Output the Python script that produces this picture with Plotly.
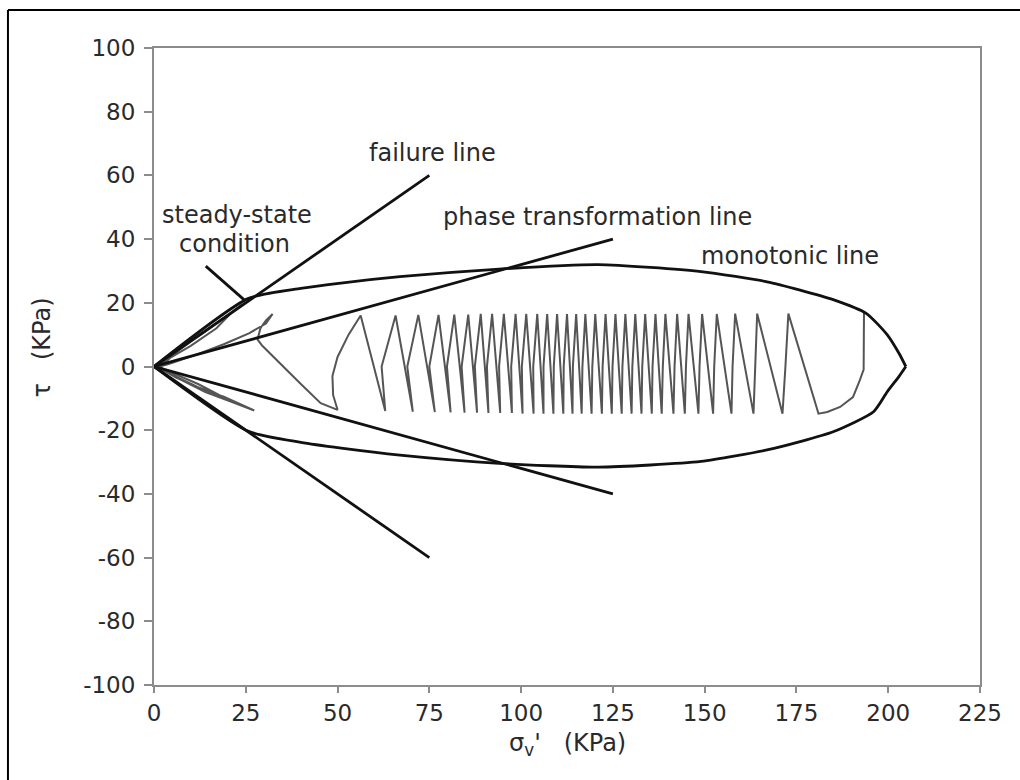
import plotly.graph_objects as go

# ---------------- data ----------------
# straight reference lines (sigma_v', tau)
failure_up_x = [0, 75]
failure_up_y = [0, 60]
failure_dn_x = [0, 75]
failure_dn_y = [0, -60]
pt_up_x = [0, 125]
pt_up_y = [0, 40]
pt_dn_x = [0, 125]
pt_dn_y = [0, -40]

# monotonic line (closed envelope)
mono_up_x = [0, 25.6, 40, 50.9, 67, 94, 121, 149, 167, 176, 185, 194, 199.7, 203, 204.8]
mono_up_y = [0, 21.3, 24.5, 26.2, 28.2, 30.6, 32.0, 29.8, 26.6, 24.0, 21.0, 16.7, 10.0, 4.0, 0]
mono_dn_x = [0, 25.6, 40, 51, 67, 94, 121, 149, 167, 176, 185, 196, 199.7, 203, 204.8]
mono_dn_y = [0, -20.3, -23.8, -25.6, -27.8, -30.4, -31.6, -29.8, -26.2, -23.6, -20.5, -14.2, -8.0, -3.0, 0]

# steady-state pointer (tail -> head)
pointer_x = [14.1, 24.5]
pointer_y = [31.5, 21.0]

# cyclic stress path: start segment
start_x = [193.4, 193.4, 193.3, 192.3, 190.4, 186.9, 183.4, 181.0]
start_y = [16.8, 8.0, -1.0, -4.2, -9.6, -12.7, -14.3, -14.8]

# cycles: peak, mid (tau ~ 0) and valley sigma_v'
cycle_peak = [172.8, 164.3, 158.3, 153.3, 149.3, 145.6, 142.5, 139.3, 136.6, 133.8,
              131.1, 128.4, 125.7, 123.0, 120.2, 117.5, 115.0, 112.5, 109.8, 107.1,
              104.4, 101.4, 98.5, 95.3, 92.1, 89.0, 85.6, 81.8, 77.5, 72.0, 65.8]
cycle_mid = [172.0, 163.7, 157.6, 152.6, 148.6, 144.9, 141.8, 138.6, 135.8, 133.0,
             130.3, 127.6, 124.9, 122.2, 119.4, 116.7, 114.1, 111.6, 108.9, 106.1,
             103.3, 100.2, 97.3, 94.0, 90.7, 87.4, 83.8, 79.8, 75.0, 69.0, 62.0]
cycle_valley = [171.2, 163.3, 157.3, 152.3, 148.3, 144.6, 141.5, 138.3, 135.6, 132.8,
                130.1, 127.4, 124.7, 122.0, 119.2, 116.5, 114.0, 111.5, 108.8, 106.1,
                103.4, 100.4, 97.5, 94.3, 91.1, 88.0, 84.6, 80.8, 76.5, 70.5, 63.0]
cycle_peak_tau = [16.6, 16.6, 16.6, 16.5, 16.5, 16.5, 16.5, 16.5, 16.5, 16.5,
                  16.5, 16.5, 16.5, 16.5, 16.5, 16.5, 16.5, 16.5, 16.5, 16.5,
                  16.5, 16.5, 16.5, 16.5, 16.5, 16.5, 16.3, 16.3, 16.2, 16.2, 16.0]
cycle_valley_tau = [-14.8, -14.8, -14.8, -14.8, -14.8, -14.8, -14.8, -14.8, -14.8, -14.8,
                    -14.8, -14.8, -14.8, -14.8, -14.8, -14.8, -14.8, -14.8, -14.8, -14.8,
                    -14.8, -14.8, -14.6, -14.6, -14.6, -14.5, -14.5, -14.4, -14.3, -14.2, -14.0]

# final part: approach to failure (butterfly)
end_x = [56.3, 53.0, 50.0, 48.6, 48.8, 50.0, 45.4, 40.0, 34.0, 29.5, 28.2, 29.0, 30.5, 32.3,
         30.5, 26.0, 19.0, 11.0, 4.0, 1.5,
         6.0, 12.0, 19.0, 25.0, 27.3,
         22.0, 14.0, 6.0, 1.5,
         6.0, 12.0, 17.0, 21.0,
         17.0, 10.0, 4.0, 1.0,
         7.0, 14.0, 22.0,
         12.0, 3.0, 0.5,
         7.0, 14.0, 20.0, 24.0]
end_y = [16.0, 10.0, 3.0, -3.0, -9.0, -13.6, -11.5, -5.5, 1.5, 6.5, 8.5, 12.0, 14.5, 16.5,
         13.5, 10.5, 7.0, 3.5, 0.8, 0.0,
         -3.2, -6.5, -9.5, -12.5, -13.8,
         -11.5, -7.5, -3.5, -0.5,
         4.5, 9.5, 13.5, 16.8,
         12.0, 6.5, 2.5, 0.0,
         -4.0, -8.0, -11.5,
         -5.5, -1.0, 0.0,
         5.5, 11.0, 16.0, 19.5]

# ---------------- build cyclic path ----------------
path_x = list(start_x)
path_y = list(start_y)
for p, m, v, pt, vt in zip(cycle_peak, cycle_mid, cycle_valley, cycle_peak_tau, cycle_valley_tau):
    path_x += [p, m, v]
    path_y += [pt, 0.0, vt]
path_x += end_x
path_y += end_y

fig = go.Figure()

fig.add_trace(go.Scatter(x=path_x, y=path_y, mode="lines",
                         line=dict(color="#555555", width=2.0), hoverinfo="skip"))

black = dict(color="#111111", width=2.8)
for xs, ys in [(failure_up_x, failure_up_y), (failure_dn_x, failure_dn_y),
               (pt_up_x, pt_up_y), (pt_dn_x, pt_dn_y), (pointer_x, pointer_y)]:
    fig.add_trace(go.Scatter(x=xs, y=ys, mode="lines", line=black, hoverinfo="skip"))
for xs, ys in [(mono_up_x, mono_up_y), (mono_dn_x, mono_dn_y)]:
    fig.add_trace(go.Scatter(x=xs, y=ys, mode="lines", hoverinfo="skip",
                             line=dict(color="#111111", width=2.8, shape="spline", smoothing=0.6)))

txt = dict(family="DejaVu Sans, Verdana, sans-serif", size=24, color="#2a2a2a")
tick_txt = dict(family="DejaVu Sans, Verdana, sans-serif", size=23, color="#2a2a2a")

annotations = [
    dict(x=75.9, y=66.9, text="failure line", showarrow=False, font=txt),
    dict(x=120.8, y=47.0, text="phase transformation line", showarrow=False, font=txt),
    dict(x=173.3, y=34.7, text="monotonic line", showarrow=False, font=txt),
    dict(x=22.6, y=47.6, text="steady-state", showarrow=False, font=txt),
    dict(x=21.8, y=38.5, text="condition", showarrow=False, font=txt),
    dict(xref="paper", yref="paper", x=0.5, y=-0.094, xanchor="center", yanchor="middle",
         text="σ<sub>v</sub>'   (KPa)", showarrow=False, font=txt),
    dict(xref="paper", yref="paper", x=-0.1356, y=0.53, xanchor="center", yanchor="middle",
         text="τ   (KPa)", textangle=-90, showarrow=False, font=txt),
]

axis_common = dict(showgrid=False, zeroline=False, showline=True, linecolor="#8c8c8c",
                   linewidth=2, mirror=True, ticks="outside", tickcolor="#8c8c8c",
                   tickwidth=1.5, tickfont=tick_txt)

fig.update_layout(
    width=1020, height=780,
    margin=dict(l=154, r=40, t=48, b=95),
    paper_bgcolor="white", plot_bgcolor="white",
    showlegend=False,
    xaxis=dict(range=[0, 225], tickmode="array",
               tickvals=[0, 25, 50, 75, 100, 125, 150, 175, 200, 225],
               ticklen=6, **axis_common),
    yaxis=dict(range=[-100, 100], tickmode="array",
               tickvals=[-100, -80, -60, -40, -20, 0, 20, 40, 60, 80, 100],
               ticktext=["-100", "-80", "-60", "-40", "-20", "0", "20", "40", "60", "80", "100"],
               ticklen=8, ticklabelstandoff=4, **axis_common),
    annotations=annotations,
    shapes=[
        dict(type="line", xref="paper", yref="paper", x0=-0.1768, x1=-0.1768, y0=-0.2, y1=1.0597,
             line=dict(color="black", width=2)),
        dict(type="line", xref="paper", yref="paper", x0=-0.1768, x1=1.06, y0=1.0597, y1=1.0597,
             line=dict(color="black", width=2)),
    ],
)

fig.write_html("out.html")
